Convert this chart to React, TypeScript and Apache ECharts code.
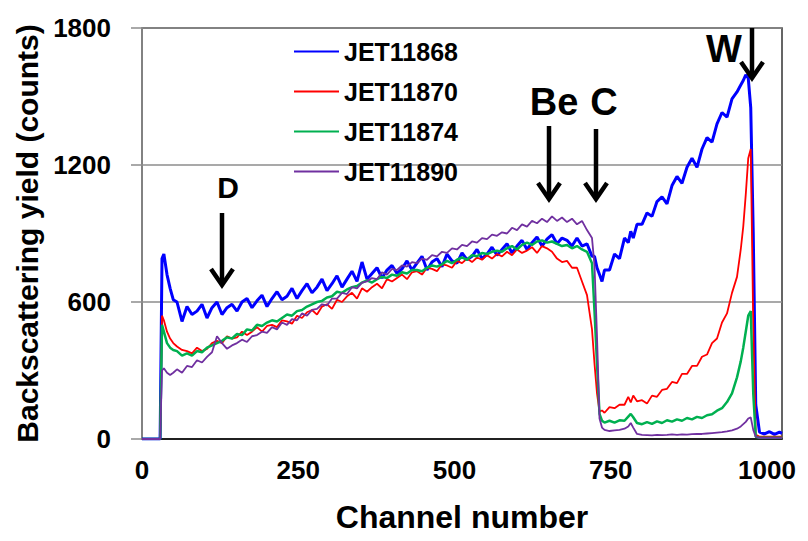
import React, { useEffect, useRef } from 'react';
import * as echarts from 'echarts';

const CHANNELS = [
  0, 10, 20, 29, 32, 35, 40, 45, 50,
  56, 64, 72, 80, 88, 96, 104, 112, 120, 128, 136, 144, 152, 160, 168, 176,
  184, 192, 200, 208, 216, 224, 232, 240, 248, 256, 264, 272, 280, 288, 296, 304,
  312, 320, 328, 336, 344, 352, 360, 368, 376, 384, 392, 400, 408, 416, 424, 432,
  440, 448, 456, 464, 472, 480, 488, 496, 504, 512, 520, 528, 536, 544, 552, 560,
  568, 576, 584, 592, 600, 608, 616, 624, 632, 640, 648, 656, 664, 672, 680, 688,
  696, 704, 712, 720,
  724, 728, 732, 736, 740, 748, 756, 764, 772, 778, 782, 786, 792,
  800, 808, 816, 824, 832, 840, 848, 856, 864, 872, 880, 888, 896, 904, 912, 920, 928, 936, 944, 952,
  958, 962, 966, 970, 974, 978, 982, 988, 996, 1004, 1012, 1020, 1024,
];

const JET11868 = [
  0, 0, 0, 0, 790, 810, 720, 660, 610,
  600, 515, 580, 545, 560, 590, 530, 575, 600, 545, 575, 590, 560, 600, 615, 575,
  605, 630, 580, 615, 645, 610, 625, 660, 615, 650, 680, 640, 665, 700, 650, 680,
  715, 665, 700, 735, 690, 775, 700, 725, 750, 705, 740, 760, 725, 745, 780, 740,
  770, 800, 740, 775, 790, 755, 810, 780, 770, 815, 785, 800, 830, 790, 810, 840,
  805, 830, 855, 815, 845, 870, 830, 860, 885, 845, 875, 895, 855, 880, 870, 845,
  880, 845, 855, 800,
  800, 750, 720, 690, 740, 740, 810, 790, 880, 860, 910, 880, 940,
  940, 990, 975, 1040, 1060, 1030, 1110, 1150, 1120, 1190, 1230, 1190, 1270, 1320, 1300, 1380, 1430, 1410, 1490, 1520,
  1550, 1570, 1595, 1580, 1450, 900, 150, 30, 22, 32, 20, 30, 25,
];

const JET11870 = [
  0, 0, 0, 0, 540, 520, 470, 440, 420,
  405, 390, 385, 375, 400, 385, 395, 420, 430, 420, 450, 440, 445, 470, 455, 470,
  490, 470, 495, 500, 490, 520, 515, 505, 540, 530, 555, 565, 545, 580, 590, 570,
  610, 600, 625, 640, 615, 660, 645, 665, 680, 660, 700, 690, 705, 720, 700, 730,
  735, 720, 750, 745, 735, 765, 760, 750, 780, 770, 790, 775, 795, 785, 805, 790,
  810, 800, 820, 805, 830, 815, 825, 840, 815, 845, 835, 820, 790, 775, 780, 750,
  750, 690, 630, 480,
  330, 200, 120, 125, 115, 140, 135, 150, 150, 185, 160, 190, 165,
  170, 155, 190, 185, 215, 220, 250, 245, 285, 285, 320, 320, 360, 370, 420, 440, 510, 550, 640, 710,
  830, 930, 1070, 1230, 1270, 500, 20, 10, 10, 10, 10, 10, 10,
];

const JET11874 = [
  0, 0, 0, 0, 500, 470, 420, 400, 390,
  385, 365, 375, 365, 385, 380, 400, 410, 420, 430, 445, 440, 460, 455, 480, 475,
  500, 495, 510, 520, 515, 530, 545, 540, 560, 565, 580, 590, 600, 605, 620, 625,
  645, 640, 655, 665, 670, 685, 695, 685, 700, 710, 705, 720, 715, 730, 725, 740,
  740, 735, 750, 760, 755, 765, 780, 770, 785, 795, 785, 805, 800, 815, 810, 820,
  825, 820, 835, 845, 830, 850, 860, 850, 865, 870, 860, 865, 855, 845, 850, 835,
  845, 830, 820, 770,
  560, 330, 110, 80, 72, 80, 72, 82, 80, 98, 110, 95, 70,
  65, 74, 66, 77, 70, 82, 76, 86, 80, 92, 86, 97, 92, 104, 108, 124, 135, 162, 200, 270,
  340, 400, 470, 540, 560, 200, 10, 5, 5, 5, 5, 5, 5,
];

const JET11890 = [
  0, 0, 0, 0, 300, 310, 290, 280, 290,
  305, 290, 320, 315, 345, 335, 360, 380, 450, 420, 395, 410, 420, 435, 425, 450,
  455, 470, 465, 490, 480, 510, 500, 525, 520, 550, 540, 565, 570, 590, 585, 615,
  615, 640, 635, 665, 660, 685, 690, 705, 700, 730, 720, 745, 740, 760, 755, 775,
  770, 790, 785, 805, 800, 820, 815, 835, 830, 850, 845, 865, 860, 880, 875, 895,
  890, 905, 900, 925, 915, 940, 930, 955, 945, 965, 950, 975, 955, 970, 950, 965,
  940, 955, 915, 880,
  760, 450, 90, 50, 40, 35, 38, 40, 45, 55, 70, 50, 22,
  18, 17, 16, 18, 17, 18, 20, 18, 20, 19, 21, 22, 22, 24, 26, 28, 30, 33, 38, 45,
  55, 65, 75, 90, 95, 40, 10, 5, 5, 5, 5, 5, 5,
];

const SERIES_NAMES = ['JET11868', 'JET11870', 'JET11874', 'JET11890'];
const SERIES_VALUES = [JET11868, JET11870, JET11874, JET11890];
const SERIES_COLORS = ['#0000FF', '#FF0000', '#00B050', '#7030A0'];
const SERIES_WIDTHS = [3, 1.8, 2.5, 1.8];

const X_TICKS = [0, 250, 500, 750, 1000];
const Y_TICKS = [0, 600, 1200, 1800];

const FONT = '"Liberation Sans", Arial, sans-serif';

export default function App() {
  const ref = useRef<HTMLDivElement>(null);

  useEffect(() => {
    const chart = echarts.init(ref.current as HTMLDivElement, null, { renderer: 'svg' });

    const arrow = (x: number, y1: number, y2: number) => [
      {
        type: 'line',
        shape: { x1: x, y1, x2: x, y2: y2 - 2 },
        style: { stroke: '#000', lineWidth: 4.5 },
        z: 100,
      },
      {
        type: 'polyline',
        shape: { points: [[x - 11, y2 - 16], [x, y2], [x + 11, y2 - 16]] },
        style: { stroke: '#000', lineWidth: 4.5, fill: 'none' },
        z: 100,
      },
    ];

    const label = (text: string, x: number, y: number, size: number) => ({
      type: 'text',
      x,
      y,
      z: 100,
      style: {
        text,
        fill: '#000',
        font: `bold ${size}px ${FONT}`,
        align: 'center',
        verticalAlign: 'middle',
      },
    });

    const option: any = {
      animation: false,
      backgroundColor: '#fff',
      grid: {
        left: 142,
        right: 26,
        top: 28,
        bottom: 102,
        show: true,
        borderColor: '#333',
        borderWidth: 1.5,
      },
      legend: {
        orient: 'vertical',
        left: 288,
        top: 34,
        itemWidth: 45,
        itemHeight: 14,
        itemGap: 15,
        data: SERIES_NAMES,
        itemStyle: { opacity: 0 },
        textStyle: { fontSize: 25, fontWeight: 'bold', color: '#000', fontFamily: FONT },
        selectedMode: false,
      },
      xAxis: {
        type: 'value',
        min: 0,
        max: 1024,
        interval: 250,
        name: 'Channel number',
        nameLocation: 'middle',
        nameGap: 62,
        nameTextStyle: { fontSize: 32, fontWeight: 'bold', color: '#000', fontFamily: FONT },
        axisLine: { show: true, onZero: false, lineStyle: { color: '#000', width: 1.5 } },
        axisTick: { show: false },
        splitLine: { show: false },
        axisLabel: {
          margin: 18,
          fontSize: 26,
          fontWeight: 'bold',
          color: '#000',
          fontFamily: FONT,
          formatter: (v: number) => (X_TICKS.includes(v) ? String(v) : ''),
        },
      },
      yAxis: {
        type: 'value',
        min: 0,
        max: 1800,
        interval: 600,
        name: 'Backscattering yield (counts)',
        nameLocation: 'middle',
        nameGap: 98,
        nameTextStyle: { fontSize: 30, fontWeight: 'bold', color: '#000', fontFamily: FONT },
        axisLine: { show: true, lineStyle: { color: '#8c8c8c', width: 1.5 } },
        axisTick: { show: true, inside: false, length: 11, lineStyle: { color: '#8c8c8c', width: 1.5 } },
        splitLine: { show: true, lineStyle: { color: '#8c8c8c', width: 1.5 } },
        axisLabel: {
          margin: 31,
          fontSize: 26,
          fontWeight: 'bold',
          color: '#000',
          fontFamily: FONT,
          formatter: (v: number) => (Y_TICKS.includes(v) ? String(v) : ''),
        },
      },
      series: SERIES_NAMES.map((name, s) => ({
        name,
        type: 'line',
        symbol: 'none',
        showSymbol: false,
        silent: true,
        emphasis: { disabled: true },
        data: CHANNELS.map((c, i) => [c, SERIES_VALUES[s][i]]),
        lineStyle: { color: SERIES_COLORS[s], width: SERIES_WIDTHS[s] },
        itemStyle: { color: SERIES_COLORS[s] },
        z: 2 + s,
      })),
      graphic: [
        label('D', 228, 187, 30),
        ...arrow(222, 213, 285),
        label('Be', 554, 102, 38),
        ...arrow(549, 126, 199),
        label('C', 604, 102, 38),
        ...arrow(596, 129, 199),
        label('W', 724, 49, 38),
        ...arrow(752, 28, 78),
      ],
    };

    chart.setOption(option);
    return () => chart.dispose();
  }, []);

  return (
    <div
      ref={ref}
      style={{ position: 'fixed', left: 0, top: 0, width: 808, height: 541, background: '#fff' }}
    />
  );
}
